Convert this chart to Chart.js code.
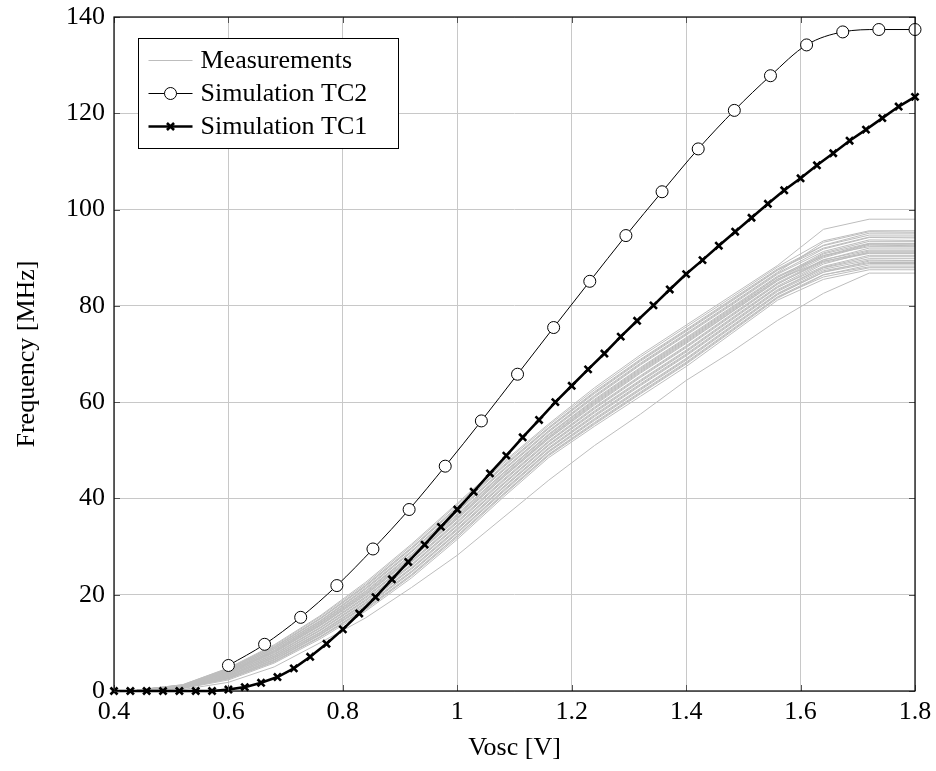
<!DOCTYPE html>
<html>
<head>
<meta charset="utf-8">
<script src="https://cdn.jsdelivr.net/npm/chart.js@4/dist/chart.umd.min.js"></script>
<style>
  html, body { margin: 0; padding: 0; background: #fff; }
  #wrap { width: 936px; height: 771px; }
</style>
</head>
<body>
<div id="wrap"><canvas id="chart" width="936" height="771"></canvas></div>
<script>
// x values of the simulated curves
const tc1X = [0.4, 0.4286, 0.4571, 0.4857, 0.5143, 0.5429, 0.5714, 0.6, 0.6286, 0.6571,
  0.6857, 0.7143, 0.7429, 0.7714, 0.8, 0.8286, 0.8571, 0.8857, 0.9143, 0.9429,
  0.9714, 1.0, 1.0286, 1.0571, 1.0857, 1.1143, 1.1429, 1.1714, 1.2, 1.2286,
  1.2571, 1.2857, 1.3143, 1.3429, 1.3714, 1.4, 1.4286, 1.4571, 1.4857, 1.5143,
  1.5429, 1.5714, 1.6, 1.6286, 1.6571, 1.6857, 1.7143, 1.7429, 1.7714, 1.8];
const tc1Y = [0, 0, 0, 0, 0, 0, 0, 0.3, 0.8, 1.7,
  2.9, 4.7, 7.1, 9.8, 12.8, 16.1, 19.5, 23.2, 26.8, 30.4,
  34.1, 37.7, 41.4, 45.2, 48.9, 52.7, 56.3, 60.0, 63.4, 66.8,
  70.1, 73.6, 76.9, 80.1, 83.4, 86.6, 89.5, 92.5, 95.4, 98.3,
  101.2, 104.0, 106.5, 109.2, 111.7, 114.3, 116.6, 119.0, 121.4, 123.4];

const tc2X = [0.6, 0.6632, 0.7263, 0.7895, 0.8526, 0.9158, 0.9789, 1.0421, 1.1053, 1.1684,
  1.2316, 1.2947, 1.3579, 1.4211, 1.4842, 1.5474, 1.6105, 1.6737, 1.7368, 1.8];
const tc2Y = [5.3, 9.7, 15.3, 21.9, 29.5, 37.7, 46.7, 56.1, 65.8, 75.5,
  85.1, 94.6, 103.7, 112.6, 120.6, 127.8, 134.2, 136.9, 137.4, 137.4];

// measured curves (one row per chip)
const measX = [0.44, 0.52, 0.60, 0.68, 0.76, 0.84, 0.92, 1.00, 1.08, 1.16,
  1.24, 1.32, 1.40, 1.48, 1.56, 1.64, 1.72, 1.80];
const measRows = [
  [0.2, 1.3, 4.8, 9.6, 15.6, 22.6, 30.5, 39.0, 47.5, 55.5, 63.0, 69.8, 76.0, 82.2, 88.4, 95.9, 98.0, 98.0],
  [0.2, 1.3, 4.7, 9.4, 15.4, 22.3, 30.2, 38.7, 47.2, 55.2, 62.6, 69.4, 75.6, 81.8, 88.1, 93.5, 95.6, 95.6],
  [0.2, 1.2, 4.6, 9.2, 15.1, 22.0, 29.8, 38.3, 46.8, 54.8, 62.2, 68.9, 75.1, 81.4, 87.7, 92.6, 95.1, 95.1],
  [0.2, 1.2, 4.5, 9.1, 15.0, 21.9, 29.7, 38.1, 46.6, 54.7, 62.0, 68.7, 74.9, 81.2, 87.5, 92.0, 94.3, 94.3],
  [0.2, 1.2, 4.5, 9.0, 14.9, 21.7, 29.5, 37.9, 46.4, 54.5, 61.8, 68.5, 74.7, 81.0, 87.4, 92.5, 94.7, 94.7],
  [0.2, 1.1, 4.3, 8.8, 14.6, 21.4, 29.1, 37.5, 46.0, 54.1, 61.4, 68.1, 74.3, 80.6, 87.0, 93.2, 95.4, 95.3],
  [0.2, 1.1, 4.3, 8.8, 14.5, 21.3, 29.0, 37.4, 45.9, 54.0, 61.2, 67.9, 74.1, 80.4, 86.8, 91.8, 94.2, 94.1],
  [0.2, 1.1, 4.2, 8.7, 14.4, 21.1, 28.8, 37.2, 45.7, 53.8, 61.0, 67.7, 73.9, 80.2, 86.6, 91.3, 93.7, 93.6],
  [0.1, 1.1, 4.1, 8.5, 14.2, 20.8, 28.4, 36.8, 45.3, 53.4, 60.6, 67.2, 73.4, 79.8, 86.2, 90.5, 92.3, 92.3],
  [0.1, 1.1, 4.0, 8.4, 14.1, 20.7, 28.3, 36.6, 45.2, 53.3, 60.4, 67.0, 73.2, 79.6, 86.0, 90.2, 92.8, 92.8],
  [0.1, 1.0, 4.0, 8.3, 14.0, 20.5, 28.1, 36.4, 45.0, 53.1, 60.2, 66.8, 73.0, 79.4, 85.9, 91.0, 93.4, 93.4],
  [0.1, 1.0, 3.9, 8.2, 13.8, 20.3, 27.8, 36.1, 44.7, 52.8, 60.0, 66.6, 72.8, 79.2, 85.6, 89.3, 91.0, 91.0],
  [0.1, 1.0, 3.8, 8.1, 13.7, 20.2, 27.7, 36.0, 44.6, 52.7, 59.8, 66.4, 72.6, 79.0, 85.5, 90.8, 93.0, 93.0],
  [0.1, 1.0, 3.8, 8.0, 13.6, 20.0, 27.5, 35.8, 44.4, 52.5, 59.6, 66.2, 72.4, 78.8, 85.3, 90.4, 92.9, 92.9],
  [0.1, 1.0, 3.7, 7.9, 13.5, 19.9, 27.4, 35.7, 44.3, 52.4, 59.4, 66.0, 72.2, 78.7, 85.2, 90.0, 92.6, 92.5],
  [0.1, 0.9, 3.6, 7.7, 13.2, 19.6, 27.0, 35.3, 43.9, 52.0, 59.0, 65.5, 71.7, 78.3, 84.8, 89.6, 91.6, 91.6],
  [0.1, 0.9, 3.5, 7.6, 13.1, 19.5, 26.9, 35.1, 43.7, 51.8, 58.8, 65.3, 71.5, 78.1, 84.6, 89.2, 91.4, 91.4],
  [0.1, 0.9, 3.5, 7.5, 13.0, 19.3, 26.7, 34.9, 43.5, 51.7, 58.6, 65.1, 71.3, 77.9, 84.5, 89.5, 92.0, 92.0],
  [0.1, 0.8, 3.3, 7.3, 12.7, 19.0, 26.3, 34.5, 43.1, 51.3, 58.2, 64.6, 70.8, 77.5, 84.1, 89.0, 90.9, 90.9],
  [0.1, 0.8, 3.3, 7.2, 12.6, 18.9, 26.2, 34.4, 43.0, 51.2, 58.0, 64.4, 70.6, 77.3, 83.9, 88.2, 90.5, 90.5],
  [0.1, 0.8, 3.2, 7.2, 12.5, 18.7, 26.0, 34.2, 42.8, 51.0, 57.8, 64.2, 70.4, 77.1, 83.8, 88.7, 91.2, 91.2],
  [0.1, 0.7, 3.1, 7.0, 12.2, 18.4, 25.6, 33.8, 42.4, 50.6, 57.4, 63.8, 70.0, 76.7, 83.4, 88.0, 90.2, 90.2],
  [0.1, 0.7, 3.0, 6.9, 12.1, 18.3, 25.5, 33.6, 42.2, 50.4, 57.2, 63.6, 69.8, 76.5, 83.2, 87.9, 89.8, 89.8],
  [0.1, 0.7, 3.0, 6.8, 12.0, 18.1, 25.3, 33.4, 42.1, 50.3, 57.0, 63.4, 69.6, 76.3, 83.0, 87.6, 89.5, 89.4],
  [0.0, 0.7, 2.8, 6.6, 11.8, 17.8, 24.9, 33.0, 41.7, 49.9, 56.6, 62.9, 69.1, 75.9, 82.6, 87.3, 89.0, 89.0],
  [0.0, 0.7, 2.8, 6.5, 11.7, 17.7, 24.8, 32.9, 41.5, 49.8, 56.4, 62.7, 68.9, 75.7, 82.5, 87.0, 89.3, 89.3],
  [0.0, 0.7, 2.7, 6.4, 11.6, 17.5, 24.6, 32.7, 41.3, 49.6, 56.2, 62.5, 68.7, 75.5, 82.3, 87.0, 88.8, 88.8],
  [0.0, 0.6, 2.6, 6.2, 11.3, 17.2, 24.2, 32.3, 40.9, 49.2, 55.8, 62.1, 68.3, 75.1, 81.9, 86.5, 88.1, 88.1],
  [0.0, 0.6, 2.6, 6.1, 11.2, 17.1, 24.1, 32.2, 40.8, 49.1, 55.6, 61.9, 68.1, 74.9, 81.8, 86.0, 87.9, 87.9],
  [0.0, 0.6, 2.5, 6.0, 11.1, 16.9, 23.9, 31.9, 40.6, 48.9, 55.4, 61.7, 67.9, 74.7, 81.6, 86.4, 88.5, 88.5],
  [0.0, 0.5, 2.3, 5.8, 10.8, 16.6, 23.5, 31.5, 40.2, 48.5, 55.0, 61.2, 67.4, 74.3, 81.2, 85.5, 87.5, 87.5],
  [0.0, 0.3, 1.8, 5.0, 10.0, 15.2, 21.5, 28.2, 36.0, 43.8, 51.0, 57.5, 64.5, 70.5, 77.0, 82.6, 86.8, 86.8]
];

const yTicks = [0, 20, 40, 60, 80, 100, 120, 140];
const xTicks = [0.4, 0.6, 0.8, 1.0, 1.2, 1.4, 1.6, 1.8];

const FONT = "'Liberation Serif', 'Times New Roman', serif";
const GRAY = '#bdbdbd';
const GRID = '#c8c8c8';

function pts(xs, ys) {
  return xs.map((x, i) => ({ x: x, y: ys[i] }));
}

const datasets = [
  {
    label: 'Simulation TC1',
    data: pts(tc1X, tc1Y),
    borderColor: '#000',
    borderWidth: 2.6,
    pointStyle: 'crossRot',
    pointRadius: 5,
    pointBorderWidth: 2.6,
    pointBorderColor: '#000',
    tension: 0,
    clip: false,
    order: 0
  },
  {
    label: 'Simulation TC2',
    data: pts(tc2X, tc2Y),
    borderColor: '#000',
    borderWidth: 1,
    pointStyle: 'circle',
    pointRadius: 6,
    pointBorderWidth: 1,
    pointBorderColor: '#000',
    pointBackgroundColor: '#fff',
    cubicInterpolationMode: 'monotone',
    clip: false,
    order: 1
  }
];
measRows.forEach((row, i) => {
  datasets.push({
    label: i === 0 ? 'Measurements' : '',
    data: pts(measX, row),
    borderColor: GRAY,
    borderWidth: 1,
    pointRadius: 0,
    tension: 0,
    order: 2
  });
});

// legend box drawn inside the plot, pgfplots style
const boxLegend = {
  id: 'boxLegend',
  afterDraw(chart) {
    const ctx = chart.ctx;
    const a = chart.chartArea;
    const x0 = a.left + 24.5, y0 = a.top + 21.5, w = 260, h = 110;
    ctx.save();
    ctx.fillStyle = '#fff';
    ctx.fillRect(x0, y0, w, h);
    ctx.strokeStyle = '#000';
    ctx.lineWidth = 1;
    ctx.strokeRect(x0, y0, w, h);
    const items = [
      { ds: chart.data.datasets[2], y: y0 + 22 },
      { ds: chart.data.datasets[1], y: y0 + 55 },
      { ds: chart.data.datasets[0], y: y0 + 88 }
    ];
    items.forEach(it => {
      const ds = it.ds;
      ctx.strokeStyle = ds.borderColor;
      ctx.lineWidth = ds.borderWidth;
      ctx.beginPath();
      ctx.moveTo(x0 + 10, it.y);
      ctx.lineTo(x0 + 54, it.y);
      ctx.stroke();
      if (ds.pointRadius) {
        ctx.fillStyle = ds.pointBackgroundColor || '#000';
        ctx.strokeStyle = ds.pointBorderColor;
        Chart.helpers.drawPoint(ctx, {
          pointStyle: ds.pointStyle,
          radius: ds.pointRadius,
          borderWidth: ds.pointBorderWidth,
          rotation: 0
        }, x0 + 32, it.y);
      }
      ctx.fillStyle = '#000';
      ctx.font = '26px ' + FONT;
      ctx.textBaseline = 'middle';
      ctx.textAlign = 'left';
      ctx.fillText(ds.label, x0 + 62, it.y + 1);
    });
    ctx.restore();
  }
};

// axis frame with inward tick marks
const frame = {
  id: 'frame',
  afterDatasetsDraw(chart) {
    const ctx = chart.ctx;
    const a = chart.chartArea;
    const xs = chart.scales.x, ys = chart.scales.y;
    ctx.save();
    ctx.strokeStyle = '#555';
    ctx.lineWidth = 1;
    ctx.beginPath();
    xTicks.forEach(v => {
      const p = Math.round(xs.getPixelForValue(v)) + 0.5;
      ctx.moveTo(p, a.bottom); ctx.lineTo(p, a.bottom - 6);
      ctx.moveTo(p, a.top); ctx.lineTo(p, a.top + 6);
    });
    yTicks.forEach(v => {
      const p = Math.round(ys.getPixelForValue(v)) + 0.5;
      ctx.moveTo(a.left, p); ctx.lineTo(a.left + 6, p);
      ctx.moveTo(a.right, p); ctx.lineTo(a.right - 6, p);
    });
    ctx.stroke();
    ctx.strokeStyle = '#000';
    ctx.lineWidth = 1.2;
    ctx.strokeRect(a.left, a.top, a.right - a.left, a.bottom - a.top);
    ctx.restore();
  }
};

new Chart(document.getElementById('chart').getContext('2d'), {
  type: 'line',
  data: { datasets: datasets },
  options: {
    responsive: false,
    animation: false,
    layout: { padding: { left: 12, top: 17, right: 21, bottom: 7 } },
    plugins: {
      legend: { display: false },
      tooltip: { enabled: false }
    },
    scales: {
      x: {
        type: 'linear',
        min: 0.4,
        max: 1.8,
        afterBuildTicks: s => { s.ticks = xTicks.map(v => ({ value: v })); },
        afterFit: s => { s.height = 73; s.paddingLeft = 0; s.paddingRight = 0; },
        grid: { color: GRID, lineWidth: 1, drawTicks: false },
        border: { display: false },
        ticks: {
          color: '#000',
          padding: 6,
          maxRotation: 0,
          font: { family: FONT, size: 26 },
          callback: v => String(+v.toFixed(1))
        },
        title: {
          display: true,
          text: 'Vosc [V]',
          color: '#000',
          font: { family: FONT, size: 26 },
          padding: { top: 4, bottom: 0 }
        }
      },
      y: {
        min: 0,
        max: 140,
        afterBuildTicks: s => { s.ticks = yTicks.map(v => ({ value: v })); },
        afterFit: s => { s.width = 102; s.paddingTop = 0; s.paddingBottom = 0; },
        grid: { color: GRID, lineWidth: 1, drawTicks: false },
        border: { display: false },
        ticks: {
          color: '#000',
          padding: 9,
          font: { family: FONT, size: 26 }
        },
        title: {
          display: true,
          text: 'Frequency [MHz]',
          color: '#000',
          font: { family: FONT, size: 26 },
          padding: { top: 0, bottom: 6 }
        }
      }
    }
  },
  plugins: [frame, boxLegend]
});
</script>
</body>
</html>
